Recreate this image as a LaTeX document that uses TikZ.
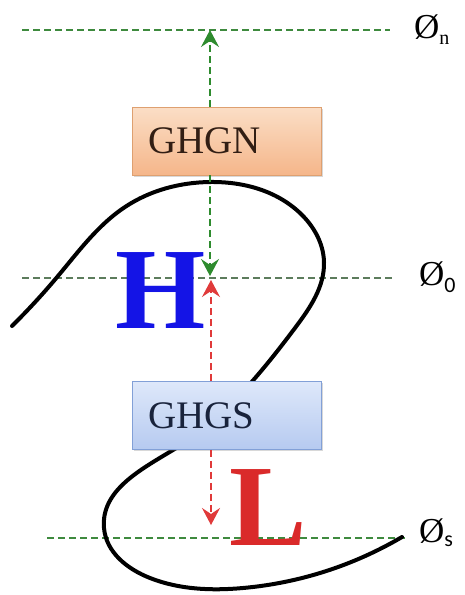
\documentclass[tikz,border=0pt]{standalone}
\usepackage{fontspec}
\setmainfont{Liberation Serif}
\newfontfamily\subsans{Carlito}
\usetikzlibrary{arrows.meta,shadows,hobby}
\definecolor{hgreen}{HTML}{3E8A3E}
\definecolor{hgray}{HTML}{5C7C5C}
\definecolor{agreen}{HTML}{2E8B2E}
\definecolor{ared}{HTML}{E03A3A}
\definecolor{Hblue}{HTML}{1414E6}
\definecolor{Lred}{HTML}{DA2A2A}
\begin{document}
\begin{tikzpicture}[x=1pt,y=-1pt,
  box/.style={draw, line width=0.6pt, minimum height=68pt, text width=157pt,
    inner xsep=16pt, inner ysep=0pt, align=left,
    font=\fontsize{39}{39}\selectfont,
    drop shadow={opacity=0.3, shadow xshift=1.5pt, shadow yshift=-1.5pt}},
  hline/.style={line width=1.1pt, dash pattern=on 7pt off 4pt},
  varrow/.style={line width=1.4pt, dash pattern=on 7pt off 4pt,
    -{Stealth[length=17pt,width=18pt,inset=6pt]}},
  biglet/.style={inner sep=0pt, anchor=base, font=\bfseries\fontsize{116}{116}\selectfont},
  philab/.style={inner sep=0pt, anchor=base west, font=\fontsize{35}{35}\selectfont}
]
\useasboundingbox[fill=white] (0,0) rectangle (464,595);

% horizontal reference lines
\coordinate (n1) at (22,30);  \coordinate (n2) at (390,30);
\coordinate (z1) at (22,278); \coordinate (z2) at (392,278);
\coordinate (s1) at (47,538); \coordinate (s2) at (405,538);
\draw[hline, hgreen] (n1) -- (n2);
\draw[hline, hgray] (z1) -- (z2);
\draw[hline, hgreen] (s1) -- (s2);

\node[philab] (Ln) at (414,38) {Ø\raisebox{-6pt}{\fontsize{20}{20}\selectfont n}};
\node[philab] (L0) at (419,285) {Ø\raisebox{-7pt}{\subsans\fontsize{22}{22}\selectfont 0}};
\node[philab] (Ls) at (419,542) {Ø\raisebox{-4pt}{\subsans\fontsize{22}{22}\selectfont s}};

% black curve
\draw[line width=4pt, line cap=round, line join=round, use Hobby shortcut]
 (12,326) .. (58,276) .. (125,207) .. (210,182) .. (300,213) .. (324,262)
 .. (295,328) .. (173,450) .. (104,528) .. (150,578) .. (243,588) .. (402,537);

% letters
\node[biglet, text=Hblue] (H) at (161,328) {H};
\node[biglet, text=Lred, anchor=base west] (L) at (229,545) {L};

% boxes
\node[box, top color={rgb,255:red,251;green,222;blue,198}, bottom color={rgb,255:red,245;green,182;blue,138}, draw={rgb,255:red,222;green,160;blue,112}, text={rgb,255:red,50;green,30;blue,20}] (GHGN) at (226.5,141) {GHGN};
\node[box, top color={rgb,255:red,222;green,232;blue,250}, bottom color={rgb,255:red,182;green,202;blue,240}, draw={rgb,255:red,130;green,160;blue,215}, text={rgb,255:red,25;green,35;blue,60}] (GHGS) at (226.5,415.5) {GHGS};

% arrows
\coordinate (tn) at (210,30);
\coordinate (t0g) at (210,276);
\coordinate (t0r) at (211,280);
\coordinate (ts) at (211,525);
\draw[varrow, agreen] (tn |- GHGN.north) -- (tn);
\draw[varrow, agreen] (t0g |- GHGN.south) -- (t0g);
\draw[varrow, ared] (t0r |- GHGS.north) -- (t0r);
\draw[varrow, ared] (ts |- GHGS.south) -- (ts);
\end{tikzpicture}
\end{document}
